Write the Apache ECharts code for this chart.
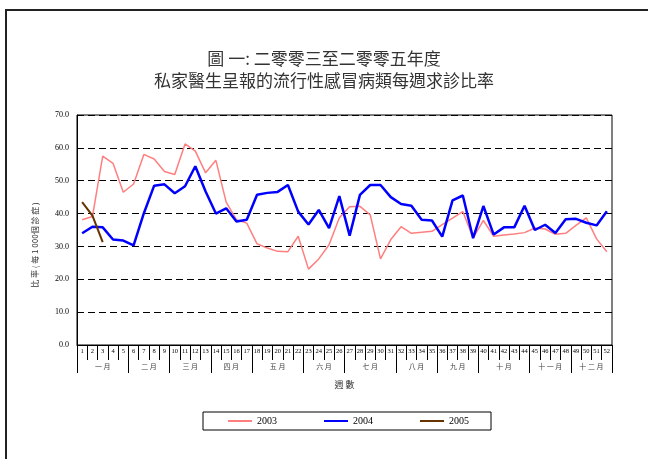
<!DOCTYPE html>
<html>
<head>
<meta charset="utf-8">
<script src="https://cdn.jsdelivr.net/npm/echarts@6/dist/echarts.min.js"></script>
<style>
  html, body { margin: 0; padding: 0; background: #fff; }
  #frame { position: absolute; left: 5px; top: 9px; width: 643px; height: 450px;
           border-left: 2px solid #222; border-top: 2px solid #222; }
  #chart { position: absolute; left: 0; top: 0; width: 648px; height: 459px; }
</style>
</head>
<body>
<div id="frame"></div>
<div id="chart"></div>
<script>
// ---- data ----
const weeks = Array.from({length: 52}, (_, i) => String(i + 1));
const monthNames = ['一 月','二 月','三 月','四 月','五 月','六 月','七 月','八 月','九 月','十 月','十 一 月','十 二 月'];
const weeksPerMonth = [5, 4, 4, 4, 5, 4, 5, 4, 4, 5, 4, 4];
const yTicks = [0, 10, 20, 30, 40, 50, 60, 70];
const titleLine1 = '圖 一: 二零零三至二零零五年度';
const titleLine2 = '私家醫生呈報的流行性感冒病類每週求診比率';

const rate2003 = [38.1, 39.1, 57.5, 55.3, 46.5, 49.0, 58.0, 56.6, 52.8, 51.9, 61.2, 59.0, 52.4, 56.2, 43.5, 38.1, 37.1, 30.8, 29.5, 28.5, 28.4, 33.1, 23.1, 26.2, 30.5, 38.7, 42.1, 42.2, 39.6, 26.2, 32.1, 36.0, 34.0, 34.3, 34.6, 36.6, 38.6, 40.6, 32.6, 37.9, 33.1, 33.5, 33.8, 34.2, 35.6, 35.3, 33.7, 34.0, 36.4, 38.7, 32.3, 28.4];
const rate2004 = [34.0, 36.0, 35.8, 32.1, 31.8, 30.3, 40.1, 48.5, 48.9, 46.2, 48.3, 54.4, 46.7, 40.0, 41.6, 37.6, 38.1, 45.7, 46.3, 46.6, 48.7, 40.6, 36.7, 41.1, 35.6, 45.3, 33.3, 45.7, 48.7, 48.7, 45.0, 42.9, 42.4, 38.1, 37.9, 33.0, 44.0, 45.5, 32.5, 42.3, 33.6, 35.8, 35.8, 42.4, 35.0, 36.6, 34.1, 38.3, 38.4, 37.2, 36.4, 40.7];
const rate2005 = [43.5, 39.4, 31.3];

// ---- month axis built on half-week steps (0..104) ----
const halfSteps = [];
const monthLabelAt = {};
const monthBoundAt = {0: true};
let acc = 0;
weeksPerMonth.forEach((n, m) => {
  monthLabelAt[acc * 2 + n] = monthNames[m];
  acc += n;
  monthBoundAt[acc * 2] = true;
});
for (let k = 0; k <= 104; k++) halfSteps.push(monthLabelAt[k] || '');

const serif = 'Liberation Serif, Times New Roman, serif';
const cjk = 'Noto Sans CJK TC, Noto Sans CJK SC, sans-serif';
const titleStyle = { fontFamily: cjk, fontSize: 17, fontWeight: 'normal', color: '#333' };

const chart = echarts.init(document.getElementById('chart'));
chart.setOption({
  animation: false,
  backgroundColor: 'transparent',
  title: [
    { text: titleLine1, left: 'center', top: 50, padding: 0, textStyle: titleStyle },
    { text: titleLine2, left: 'center', top: 72, padding: 0, textStyle: titleStyle }
  ],
  grid: {
    left: 77, right: 36, top: 115, bottom: 114,
    show: true, borderColor: '#000', borderWidth: 1, backgroundColor: 'transparent'
  },
  legend: {
    left: 203, top: 412,
    padding: [4, 22, 4, 25],
    icon: 'rect',
    itemWidth: 24, itemHeight: 2, itemGap: 47,
    borderColor: '#000', borderWidth: 1,
    textStyle: { fontFamily: serif, fontSize: 10, color: '#000' },
    data: ['2003', '2004', '2005']
  },
  xAxis: [
    {
      type: 'category', data: weeks, boundaryGap: true, position: 'bottom',
      name: '週 數', nameLocation: 'middle', nameGap: 35,
      nameTextStyle: { fontFamily: cjk, fontSize: 9, color: '#333' },
      axisLine: { lineStyle: { color: '#000', width: 1 } },
      axisTick: { show: true, interval: 0, length: 15, lineStyle: { color: '#000' } },
      axisLabel: { interval: 0, margin: 3, fontFamily: serif, fontSize: 6.5, color: '#000' },
      splitLine: { show: false }
    },
    {
      type: 'category', data: halfSteps, boundaryGap: false, position: 'bottom', gridIndex: 0,
      axisLine: { show: false },
      axisTick: { show: true, length: 28, interval: (i) => !!monthBoundAt[i], lineStyle: { color: '#000' } },
      axisLabel: { interval: 0, margin: 18, fontFamily: cjk, fontSize: 7, color: '#444' },
      splitLine: { show: false }
    }
  ],
  yAxis: {
    type: 'value', min: yTicks[0], max: yTicks[yTicks.length - 1], interval: 10,
    name: '比 率 ( 每 1 000個 診 症 )', nameLocation: 'middle', nameGap: 38, nameRotate: 90,
    nameTextStyle: { fontFamily: cjk, fontSize: 8, color: '#333', padding: [0, 30, 0, 0] },
    axisLine: { show: true, lineStyle: { color: '#000', width: 1 } },
    axisTick: { show: false },
    axisLabel: { margin: 8, fontFamily: serif, fontSize: 8, color: '#000', formatter: (v) => v.toFixed(1) },
    splitLine: { show: true, lineStyle: { color: '#000', width: 1, type: [7, 4] } }
  },
  series: [
    { name: '2003', type: 'line', data: rate2003, symbol: 'none', xAxisIndex: 0,
      lineStyle: { color: '#FF7F7F', width: 1.5 }, itemStyle: { color: '#FF7F7F' }, z: 3 },
    { name: '2004', type: 'line', data: rate2004, symbol: 'none', xAxisIndex: 0,
      lineStyle: { color: '#0000FF', width: 2.5 }, itemStyle: { color: '#0000FF' }, z: 4 },
    { name: '2005', type: 'line', data: rate2005, symbol: 'none', xAxisIndex: 0,
      lineStyle: { color: '#663300', width: 2 }, itemStyle: { color: '#663300' }, z: 5 }
  ]
});
</script>
</body>
</html>
